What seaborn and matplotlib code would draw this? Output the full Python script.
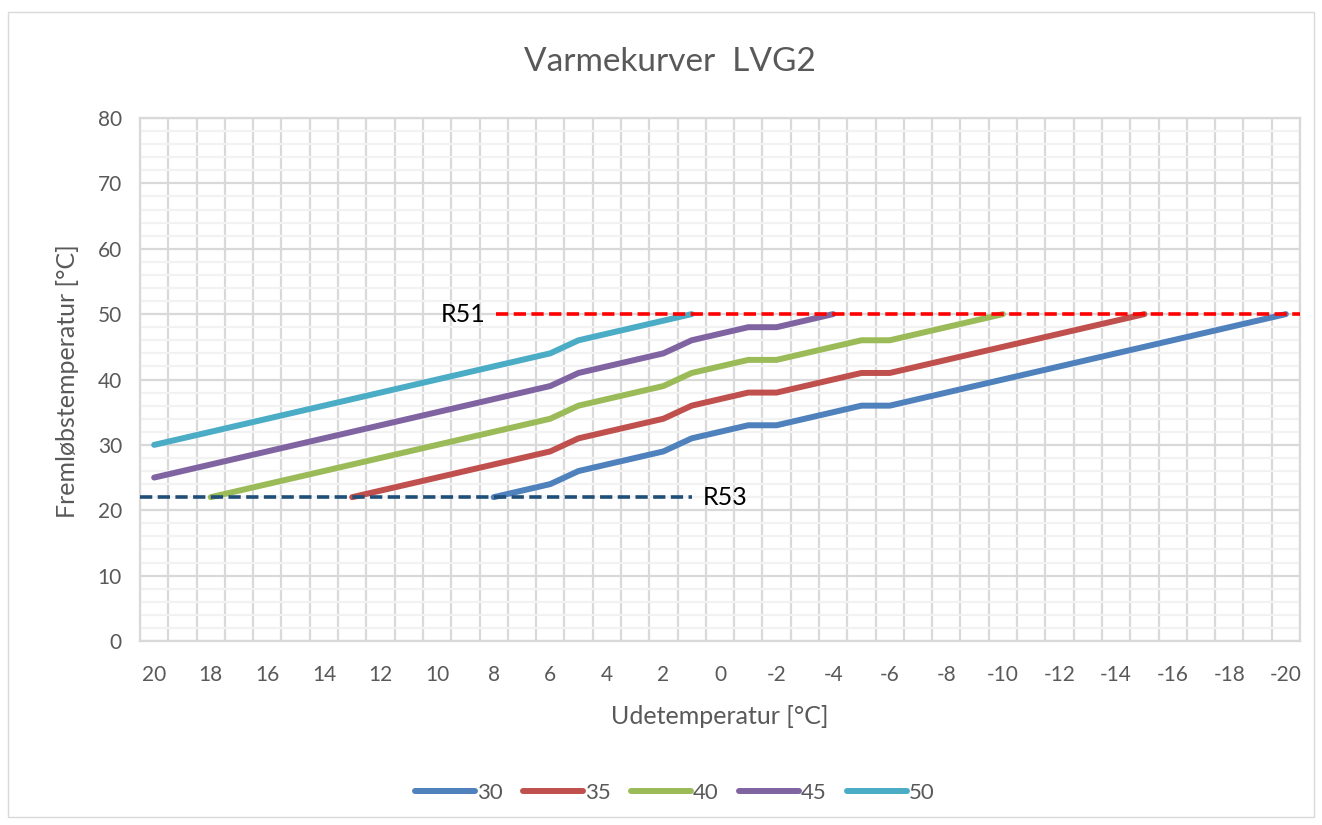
import matplotlib
matplotlib.use("Agg")
import matplotlib.pyplot as plt
from matplotlib.lines import Line2D
from matplotlib.patches import Rectangle
from matplotlib.ticker import MultipleLocator, FixedLocator
import seaborn as sns
import pandas as pd
import numpy as np

# ---------------- data ----------------
temps = [20, 19, 18, 17, 16, 15, 14, 13, 12, 11, 10, 9, 8, 7, 6, 5, 4, 3, 2, 1, 0,
         -1, -2, -3, -4, -5, -6, -7, -8, -9, -10, -11, -12, -13, -14, -15, -16, -17, -18, -19, -20]

curve_names = ["30", "35", "40", "45", "50"]

N = None
curve_30 = [N, N, N, N, N, N, N, N, N, N, N, N,
            22, 23, 24, 26, 27, 28, 29, 31, 32, 33, 33, 34, 35, 36, 36,
            37, 38, 39, 40, 41, 42, 43, 44, 45, 46, 47, 48, 49, 50]
curve_35 = [N, N, N, N, N, N, N,
            22, 23, 24, 25, 26, 27, 28, 29, 31, 32, 33, 34, 36, 37, 38, 38, 39, 40, 41, 41,
            42, 43, 44, 45, 46, 47, 48, 49, 50,
            N, N, N, N, N]
curve_40 = [N, N,
            22, 23, 24, 25, 26, 27, 28, 29, 30, 31, 32, 33, 34, 36, 37, 38, 39, 41, 42,
            43, 43, 44, 45, 46, 46, 47, 48, 49, 50,
            N, N, N, N, N, N, N, N, N, N]
curve_45 = [25, 26, 27, 28, 29, 30, 31, 32, 33, 34, 35, 36, 37, 38, 39, 41, 42, 43, 44, 46, 47,
            48, 48, 49, 50,
            N, N, N, N, N, N, N, N, N, N, N, N, N, N, N, N]
curve_50 = [30, 31, 32, 33, 34, 35, 36, 37, 38, 39, 40, 41, 42, 43, 44, 46, 47, 48, 49, 50,
            N, N, N, N, N, N, N, N, N, N, N, N, N, N, N, N, N, N, N, N, N]

curve_colors = ["#4F81BD", "#C0504D", "#9BBB59", "#8064A2", "#4BACC6"]

# reference lines (labels, level, outdoor-temperature span)
ref_labels = ["R51", "R53"]
ref_levels = [50, 22]
ref_from_temp = [7.9, 20.5]
ref_to_temp = [-20.5, 1.0]
ref_colors = ["#FF0000", "#1F4E79"]

title = "Varmekurver  LVG2"
xlabel = "Udetemperatur [°C]"
ylabel = "Fremløbstemperatur [°C]"

# ---------------- table ----------------
rows = []
for name, vals in zip(curve_names, [curve_30, curve_35, curve_40, curve_45, curve_50]):
    for i, (t, v) in enumerate(zip(temps, vals)):
        if v is not None:
            rows.append({"pos": i, "temp": t, "value": v, "curve": name})
df = pd.DataFrame(rows)

def t2pos(t):
    return temps[0] - t

# ---------------- figure ----------------
sns.set_theme(style="white")
plt.rcParams["font.family"] = ["Lato", "DejaVu Sans"]

fig = plt.figure(figsize=(13.22, 8.25), dpi=100)
ax = fig.add_axes([140 / 1322, 1 - 641 / 825, 1160 / 1322, 523 / 825])

sns.lineplot(data=df, x="pos", y="value", hue="curve", hue_order=curve_names,
             palette=dict(zip(curve_names, curve_colors)), linewidth=4.3,
             ax=ax, legend=False, solid_capstyle="round", solid_joinstyle="round",
             zorder=3)

# reference dashed lines
for lab, lev, t0, t1, col in zip(ref_labels, ref_levels, ref_from_temp, ref_to_temp, ref_colors):
    x0, x1 = t2pos(t0), t2pos(t1)
    ax.plot([x0, x1], [lev, lev], color=col, lw=2.6, dashes=(3.4, 1.5), zorder=4,
            dash_capstyle="butt")

ax.text(t2pos(ref_from_temp[0]) - 0.4, ref_levels[0], ref_labels[0], ha="right", va="center",
        fontsize=18, color="black")
ax.text(t2pos(ref_to_temp[1]) + 0.4, ref_levels[1], ref_labels[1], ha="left", va="center",
        fontsize=18, color="black")

ax.set_xlim(-0.5, len(temps) - 0.5)
ax.set_ylim(0, 80)
ax.set_xticks(range(0, len(temps), 2))
ax.set_xticklabels([str(t) for t in temps[::2]])
ax.xaxis.set_minor_locator(FixedLocator(np.arange(-0.5, len(temps), 1.0)))
ax.yaxis.set_major_locator(MultipleLocator(10))
ax.yaxis.set_minor_locator(MultipleLocator(2))

ax.grid(which="minor", axis="y", color="#F2F2F2", lw=1.6)
ax.grid(which="major", axis="y", color="#D9D9D9", lw=1.6)
ax.grid(which="minor", axis="x", color="#D9D9D9", lw=1.6)
ax.grid(which="major", axis="x", visible=False)
ax.set_axisbelow(True)

ax.tick_params(which="both", length=0)
ax.tick_params(axis="y", pad=13, labelsize=15, labelcolor="#595959")
ax.tick_params(axis="x", pad=17, labelsize=15, labelcolor="#595959")
for sp in ax.spines.values():
    sp.set_color("#D9D9D9")
    sp.set_linewidth(1.6)

ax.set_xlabel("")
ax.set_ylabel("")
fig.text(720 / 1322, 1 - 717 / 825, xlabel, ha="center", va="center", fontsize=18, color="#595959")
fig.text(68 / 1322, 1 - 381 / 825, ylabel, ha="center", va="center", rotation=90,
         fontsize=18, color="#595959")
fig.text(670 / 1322, 1 - 62 / 825, title, ha="center", va="center", fontsize=24, color="#595959")

handles = [Line2D([0], [0], color=c, lw=4.3, solid_capstyle="round") for c in curve_colors]
fig.legend(handles, curve_names, loc="center", bbox_to_anchor=(675 / 1322, 1 - 793 / 825),
           ncol=5, frameon=False, fontsize=16, handlelength=2.7, handletextpad=0.1,
           columnspacing=0.9, labelcolor="#595959")

fig.patches.append(Rectangle((8 / 1322, 8 / 825), 1 - 16 / 1322, 1 - 20 / 825,
                             transform=fig.transFigure, fill=False, edgecolor="#D9D9D9", lw=1))

fig.savefig("out.png", dpi=100)
